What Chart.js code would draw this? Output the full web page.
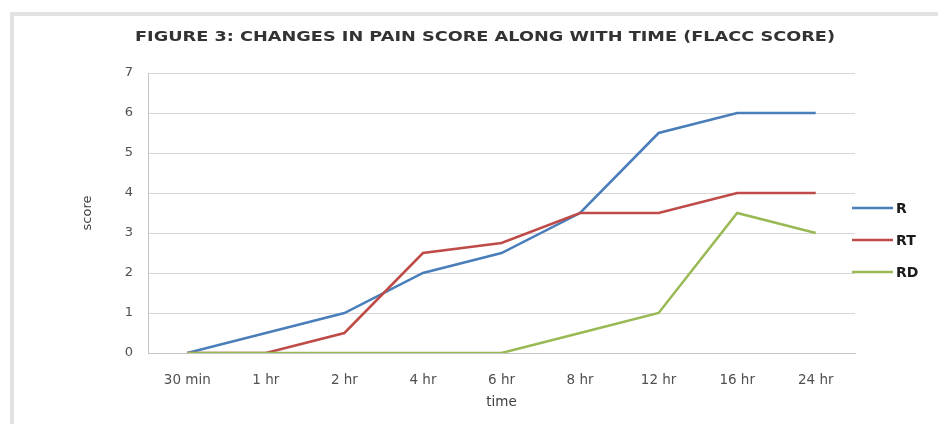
<!DOCTYPE html>
<html>
<head>
<meta charset="utf-8">
<script src="https://cdn.jsdelivr.net/npm/chart.js@4/dist/chart.umd.min.js"></script>
<style>
  html, body { margin: 0; padding: 0; background: #fff; overflow: hidden; }
  #frame { position: absolute; left: 10px; top: 12px; width: 1000px; height: 500px;
           border-top: 4px solid #e2e2e2; border-left: 4px solid #e2e2e2; }
  #wrap { position: absolute; left: 0; top: 0; width: 938px; height: 424px; }
</style>
</head>
<body>
<div id="frame"></div>
<div id="wrap"><canvas id="c" width="938" height="424"></canvas></div>
<script>
// Pain score (FLACC) per group over time
const timePoints = ['30 min', '1 hr', '2 hr', '4 hr', '6 hr', '8 hr', '12 hr', '16 hr', '24 hr'];
const scoreR  = [0, 0.5, 1, 2, 2.5, 3.5, 5.5, 6, 6];
const scoreRT = [0, 0, 0.5, 2.5, 2.75, 3.5, 3.5, 4, 4];
const scoreRD = [0, 0, 0, 0, 0, 0.5, 1, 3.5, 3];
const seriesNames = ['R', 'RT', 'RD'];
const scoreTicks = [0, 1, 2, 3, 4, 5, 6, 7];
const chartTitle = 'FIGURE 3: CHANGES IN PAIN SCORE ALONG WITH TIME (FLACC SCORE)';
const xTitle = 'time';
const yTitle = 'score';

const seriesData = [scoreR, scoreRT, scoreRD];
const seriesColors = ['#4a7ebb', '#be4b48', '#98b954'];
const FONT = '"DejaVu Sans", "Liberation Sans", sans-serif';

// Title across the top and the line legend on the right
const chromePlugin = {
  id: 'chrome',
  afterDraw(chart) {
    const ctx = chart.ctx;
    const area = chart.chartArea;

    ctx.save();
    ctx.font = 'bold 14px ' + FONT;
    ctx.fillStyle = '#333333';
    ctx.textBaseline = 'middle';
    ctx.textAlign = 'left';
    const tw = ctx.measureText(chartTitle).width;
    ctx.translate(135, 37);
    ctx.scale(700 / tw, 1);
    ctx.fillText(chartTitle, 0, 0);
    ctx.restore();

    ctx.save();
    ctx.font = 'bold 14px ' + FONT;
    ctx.textBaseline = 'middle';
    ctx.textAlign = 'left';
    chart.data.datasets.forEach((ds, i) => {
      const y = 208 + i * 32;
      const x0 = area.right - 3;
      ctx.strokeStyle = ds.borderColor;
      ctx.lineWidth = 2.5;
      ctx.beginPath();
      ctx.moveTo(x0, y);
      ctx.lineTo(x0 + 41, y);
      ctx.stroke();
      ctx.fillStyle = '#1a1a1a';
      ctx.fillText(ds.label, x0 + 44, y + 1);
    });
    ctx.restore();
  }
};

new Chart(document.getElementById('c'), {
  type: 'line',
  data: {
    labels: timePoints,
    datasets: seriesNames.map((name, i) => ({
      label: name,
      data: seriesData[i],
      borderColor: seriesColors[i],
      backgroundColor: seriesColors[i],
      borderWidth: 2.5,
      pointRadius: 0,
      pointHoverRadius: 0,
      tension: 0,
      fill: false,
      order: seriesNames.length - i
    }))
  },
  options: {
    responsive: false,
    animation: false,
    devicePixelRatio: 1,
    layout: { padding: { left: 70, right: 83, top: 73, bottom: 10 } },
    plugins: {
      legend: { display: false },
      title: { display: false },
      tooltip: { enabled: false }
    },
    scales: {
      x: {
        offset: true,
        grid: { display: false, drawTicks: false },
        border: { display: true, color: '#c4c4c4', width: 1 },
        ticks: {
          autoSkip: false, maxRotation: 0, padding: 19,
          color: '#505050', font: { family: FONT, size: 13.5 }
        },
        title: {
          display: true, text: xTitle, color: '#404040',
          font: { family: FONT, size: 13.5 }, padding: { top: 0, bottom: 3 }
        },
        afterFit(scale) { scale.height = 61; }
      },
      y: {
        min: 0, max: 7,
        afterBuildTicks(scale) { scale.ticks = scoreTicks.map(v => ({ value: v })); },
        grid: { color: '#d6d6d6', lineWidth: 1, drawTicks: false },
        border: { display: true, color: '#c4c4c4', width: 1 },
        ticks: {
          padding: 15, color: '#505050', font: { family: FONT, size: 13 }
        },
        title: {
          display: true, text: yTitle, color: '#404040',
          font: { family: FONT, size: 13 }, padding: { top: 10, bottom: 0 }
        },
        afterFit(scale) { scale.width = 78; }
      }
    }
  },
  plugins: [chromePlugin]
});
</script>
</body>
</html>
